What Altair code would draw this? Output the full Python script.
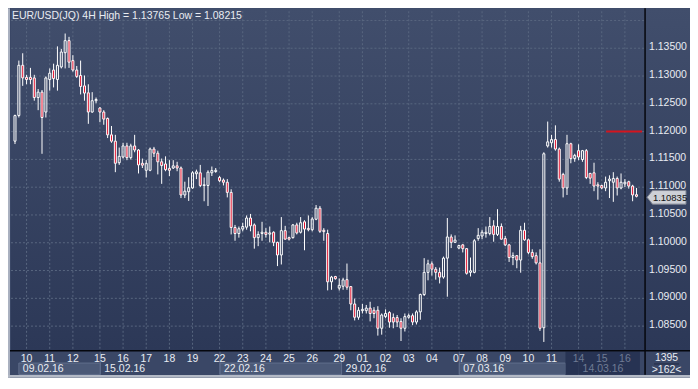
import altair as alt
import pandas as pd

# ---------------- data ----------------
opens = [
    1.11828, 1.12290, 1.13193, 1.12976, 1.12976, 1.12966, 1.12613, 1.12710, 1.12352, 1.12937,
    1.13108, 1.12937, 1.13164, 1.13420, 1.13637, 1.13278, 1.13108, 1.13010, 1.12823, 1.12698,
    1.12352, 1.12556, 1.12425, 1.12352, 1.12237, 1.11942, 1.11828, 1.11440, 1.11543, 1.11742,
    1.11532, 1.11742, 1.11669, 1.11430, 1.11304, 1.11304, 1.11686, 1.11611, 1.11457, 1.11418,
    1.11338, 1.11345, 1.11384, 1.11345, 1.10860, 1.10918, 1.10986, 1.11242, 1.11259, 1.11031,
    1.11031, 1.11259, 1.11282, 1.11174, 1.11128, 1.11089, 1.10906, 1.10275, 1.10167, 1.10246,
    1.10280, 1.10445, 1.10321, 1.10092, 1.10167, 1.10189, 1.10155, 1.10189, 1.10007, 1.09780,
    1.10218, 1.10092, 1.10092, 1.10321, 1.10189, 1.10377, 1.10258, 1.10235, 1.10423, 1.10621,
    1.10224, 1.10167, 1.09297, 1.09392, 1.09183, 1.09217, 1.09336, 1.09211, 1.08898, 1.08659,
    1.08778, 1.08778, 1.08824, 1.08785, 1.08785, 1.08461, 1.08671, 1.08744, 1.08654, 1.08654,
    1.08585, 1.08461, 1.08659, 1.08688, 1.08573, 1.08756, 1.09068, 1.09467, 1.09621, 1.09524,
    1.09467, 1.09382, 1.09723, 1.10104, 1.10007, 1.09904, 1.09962, 1.09894, 1.09467, 1.09467,
    1.10075, 1.10121, 1.10167, 1.10167, 1.10304, 1.10150, 1.10292, 1.10075, 1.09962, 1.09734,
    1.09768, 1.09689, 1.10224, 1.10053, 1.09826, 1.09768, 1.09638, 1.08471, 1.11742, 1.11799,
    1.11857, 1.11686, 1.11230, 1.10986, 1.11782, 1.11515, 1.11657, 1.11498, 1.11657, 1.11247,
    1.11259, 1.11043, 1.11031, 1.10986, 1.11116, 1.11089, 1.11157, 1.10986, 1.11060, 1.11099,
    1.11020, 1.10865,
]
highs = [
    1.12305, 1.13278, 1.13410, 1.13022, 1.13147, 1.13022, 1.12766, 1.12749, 1.12993, 1.13137,
    1.13222, 1.13534, 1.13488, 1.13765, 1.13705, 1.13375, 1.13181, 1.13278, 1.13010, 1.12852,
    1.12710, 1.12613, 1.12440, 1.12386, 1.12254, 1.12101, 1.11942, 1.11713, 1.11799, 1.11799,
    1.11782, 1.11942, 1.11686, 1.11515, 1.11486, 1.11713, 1.11725, 1.11657, 1.11515, 1.11555,
    1.11486, 1.11486, 1.11457, 1.11372, 1.11099, 1.11179, 1.11287, 1.11316, 1.11401, 1.11174,
    1.11304, 1.11372, 1.11345, 1.11201, 1.11157, 1.11145, 1.10962, 1.10321, 1.10292, 1.10360,
    1.10491, 1.10519, 1.10348, 1.10206, 1.10377, 1.10263, 1.10292, 1.10206, 1.10019, 1.10462,
    1.10304, 1.10109, 1.10338, 1.10360, 1.10462, 1.10406, 1.10491, 1.10462, 1.10679, 1.10662,
    1.10263, 1.10235, 1.09404, 1.09404, 1.09358, 1.09370, 1.09626, 1.09222, 1.08995, 1.08841,
    1.08898, 1.08881, 1.08938, 1.08841, 1.08858, 1.08727, 1.08802, 1.08768, 1.08727, 1.08700,
    1.08642, 1.08727, 1.08727, 1.08727, 1.08785, 1.09085, 1.09723, 1.09694, 1.09665, 1.09563,
    1.09553, 1.09751, 1.10445, 1.10150, 1.10133, 1.09962, 1.09979, 1.09904, 1.09734, 1.10065,
    1.10263, 1.10235, 1.10292, 1.10462, 1.10406, 1.10604, 1.10348, 1.10121, 1.09979, 1.09826,
    1.09780, 1.10304, 1.10360, 1.10075, 1.09882, 1.09826, 1.09882, 1.11628, 1.12181, 1.11942,
    1.12113, 1.11713, 1.11259, 1.11942, 1.11799, 1.11601, 1.11771, 1.11670, 1.11686, 1.11259,
    1.11440, 1.11089, 1.11043, 1.11191, 1.11213, 1.11270, 1.11191, 1.11247, 1.11145, 1.11116,
    1.11043, 1.10986,
]
lows = [
    1.11776, 1.12254, 1.12823, 1.12852, 1.12852, 1.12556, 1.12386, 1.11601, 1.12254, 1.12737,
    1.12795, 1.12737, 1.13137, 1.13137, 1.13147, 1.13078, 1.12966, 1.12669, 1.12556, 1.12140,
    1.12340, 1.12510, 1.12169, 1.12123, 1.11884, 1.11799, 1.11270, 1.11401, 1.11515, 1.11486,
    1.11498, 1.11628, 1.11247, 1.11345, 1.11174, 1.11287, 1.11543, 1.11230, 1.11060, 1.11287,
    1.11201, 1.11328, 1.11287, 1.10804, 1.10804, 1.10753, 1.10974, 1.11145, 1.11003, 1.10747,
    1.10662, 1.11201, 1.11259, 1.11089, 1.11031, 1.10816, 1.10150, 1.10036, 1.10092, 1.10206,
    1.10235, 1.10206, 1.09894, 1.09939, 1.10036, 1.10092, 1.10007, 1.09939, 1.09580, 1.09609,
    1.10053, 1.10041, 1.10075, 1.10150, 1.10167, 1.09865, 1.10206, 1.10206, 1.10406, 1.10177,
    1.10036, 1.09143, 1.09154, 1.09336, 1.09140, 1.09154, 1.09154, 1.08785, 1.08602, 1.08614,
    1.08727, 1.08727, 1.08585, 1.08642, 1.08329, 1.08346, 1.08642, 1.08471, 1.08461, 1.08483,
    1.08232, 1.08403, 1.08631, 1.08517, 1.08529, 1.08614, 1.09041, 1.09324, 1.09410, 1.09336,
    1.09268, 1.09353, 1.09029, 1.09904, 1.10007, 1.09882, 1.09826, 1.09427, 1.09393, 1.09450,
    1.10036, 1.10065, 1.10092, 1.10133, 1.10019, 1.10121, 1.10053, 1.09939, 1.09655, 1.09597,
    1.09541, 1.09461, 1.10036, 1.09792, 1.09712, 1.09609, 1.08415, 1.08215, 1.11713, 1.11713,
    1.11657, 1.11099, 1.10816, 1.10860, 1.11430, 1.11457, 1.11486, 1.11457, 1.11145, 1.11060,
    1.10928, 1.10775, 1.10962, 1.10928, 1.10804, 1.10736, 1.10850, 1.10962, 1.11003, 1.10974,
    1.10747, 1.10816,
]
closes = [
    1.12288, 1.13193, 1.12966, 1.12937, 1.12937, 1.12613, 1.12710, 1.12254, 1.12966, 1.13051,
    1.12954, 1.13193, 1.13432, 1.13637, 1.13249, 1.13108, 1.12993, 1.12812, 1.12693, 1.12352,
    1.12556, 1.12578, 1.12352, 1.12225, 1.11942, 1.11828, 1.11430, 1.11555, 1.11742, 1.11532,
    1.11742, 1.11669, 1.11401, 1.11396, 1.11430, 1.11686, 1.11611, 1.11457, 1.11389, 1.11316,
    1.11304, 1.11384, 1.11345, 1.10860, 1.10928, 1.10991, 1.11259, 1.11276, 1.11031, 1.11043,
    1.11270, 1.11299, 1.11304, 1.11116, 1.11089, 1.10906, 1.10275, 1.10167, 1.10252, 1.10292,
    1.10445, 1.10304, 1.10092, 1.10150, 1.10189, 1.10150, 1.10177, 1.10007, 1.09780, 1.10218,
    1.10065, 1.10065, 1.10321, 1.10177, 1.10360, 1.10246, 1.10235, 1.10428, 1.10621, 1.10206,
    1.10201, 1.09297, 1.09382, 1.09353, 1.09234, 1.09331, 1.09200, 1.08898, 1.08659, 1.08785,
    1.08802, 1.08824, 1.08727, 1.08727, 1.08461, 1.08700, 1.08727, 1.08573, 1.08573, 1.08573,
    1.08461, 1.08671, 1.08688, 1.08573, 1.08756, 1.09068, 1.09467, 1.09621, 1.09524, 1.09467,
    1.09382, 1.09723, 1.10104, 1.10007, 1.10048, 1.09950, 1.09894, 1.09450, 1.09495, 1.10036,
    1.10133, 1.10189, 1.10189, 1.10292, 1.10150, 1.10292, 1.10065, 1.09962, 1.09734, 1.09768,
    1.09689, 1.10224, 1.10053, 1.09826, 1.09751, 1.09638, 1.08461, 1.11601, 1.11816, 1.11857,
    1.11686, 1.11145, 1.10986, 1.11782, 1.11515, 1.11572, 1.11543, 1.11657, 1.11174, 1.11162,
    1.11020, 1.11020, 1.10986, 1.11089, 1.11145, 1.11157, 1.10986, 1.11089, 1.11089, 1.11020,
    1.10860, 1.10835,
]

day_pos = [3, 9, 15, 22, 28, 34, 40, 46, 53, 59, 65, 71, 77, 84, 90, 96, 102, 108,
           115, 121, 127, 133, 139, 146, 152, 158]
day_labels = ["10", "11", "12", "15", "16", "17", "18", "19", "22", "23", "24", "25", "26",
              "29", "01", "02", "03", "04", "07", "08", "09", "10", "11", "14", "15", "16"]
day_dim = [False] * 23 + [True] * 3

week_labels = ["09.02.16", "15.02.16", "22.02.16", "29.02.16", "07.03.16", "14.03.16"]
week_start = [1.0, 22.1, 53.1, 84.6, 115.1, 146.0]
week_end = [22.1, 53.1, 84.6, 115.1, 142.6, 161.9]
week_filled = [True, False, True, False, True, False]
week_dim = [False, False, False, False, False, True]
dim_from = 142.6

price_ticks = [1.085, 1.090, 1.095, 1.100, 1.105, 1.110, 1.115, 1.120, 1.125, 1.130, 1.135]
grid_prices = price_ticks + [1.140]
alert_price = 1.12000
last_close = 1.10835
title_text = "EUR/USD(JQ) 4H High = 1.13765 Low = 1.08215"
bars_total = "1395"
bars_visible = ">162<"

# ---------------- layout ----------------
W, H = 635, 340
FONT = "Liberation Sans Narrow, Liberation Sans, Arial, sans-serif"
FS = 10.5
TXT = "#e9ecf2"
DIM = "#6f7b94"
GRID = "#58667f"

xscale = alt.Scale(domain=[0.26, 161.93], nice=False, zero=False)
yscale = alt.Scale(domain=[1.080563, 1.141655], nice=False, zero=False)
X = alt.X("i:Q", scale=xscale, axis=None)


def Yf(field):
    return alt.Y(field, type="quantitative", scale=yscale, axis=None)


one = pd.DataFrame({"a": [0]})

df = pd.DataFrame({"i": list(range(len(opens))), "o": opens, "h": highs, "l": lows, "c": closes})
df["top"] = df[["o", "c"]].max(axis=1)
df["bot"] = df[["o", "c"]].min(axis=1)

grad = alt.LinearGradient(
    gradient="linear",
    stops=[alt.GradientStop(offset=0, color="#414e6c"), alt.GradientStop(offset=1, color="#2c3857")],
    x1=0, x2=0, y1=0, y2=1,
)

bg_plot = alt.Chart(one).mark_rect(color=grad).encode(
    x=alt.value(0), x2=alt.value(W), y=alt.value(-3), y2=alt.value(H))
bg_right = alt.Chart(one).mark_rect(color=grad).encode(
    x=alt.value(W), x2=alt.value(680), y=alt.value(-3), y2=alt.value(H))
left_border = alt.Chart(one).mark_rect(color="#aab1c0").encode(
    x=alt.value(-3), x2=alt.value(-1), y=alt.value(-3), y2=alt.value(367))
bottom_border = alt.Chart(one).mark_rect(color="#b4bac6").encode(
    x=alt.value(-3), x2=alt.value(680), y=alt.value(364.2), y2=alt.value(367))

hgrid = alt.Chart(pd.DataFrame({"p": grid_prices})).mark_rule(
    color=GRID, strokeDash=[2, 2], strokeWidth=1).encode(
    y=Yf("p"), x=alt.value(0), x2=alt.value(W))

days_df = pd.DataFrame({"i": day_pos, "t": day_labels, "dim": day_dim})
vgrid = alt.Chart(days_df).mark_rule(color=GRID, strokeDash=[2, 2], strokeWidth=1).encode(
    x=X, y=alt.value(0), y2=alt.value(H))

alert = alt.Chart(pd.DataFrame({"p": [alert_price]})).mark_rule(
    color="#d4141e", strokeWidth=2).encode(y=Yf("p"), x=alt.value(596), x2=alt.value(632))

wick_up = alt.Chart(df).mark_rule(color="white", strokeWidth=1, clip=True).encode(
    x=X, y=Yf("h"), y2="top:Q")
wick_dn = alt.Chart(df).mark_rule(color="white", strokeWidth=1, clip=True).encode(
    x=X, y=Yf("bot"), y2="l:Q")
bull = alt.Chart(df).transform_filter("datum.c >= datum.o").mark_bar(
    width=2, stroke="white", strokeWidth=1, fill="#36425f", fillOpacity=0, clip=True).encode(
    x=X, y=Yf("bot"), y2="top:Q")
bear = alt.Chart(df).transform_filter("datum.c < datum.o").mark_bar(
    width=2, stroke="white", strokeWidth=1, fill="#e3102d", clip=True).encode(
    x=X, y=Yf("bot"), y2="top:Q")

hline = alt.Chart(one).mark_rule(color="#05070d", strokeWidth=1.5).encode(
    x=alt.value(-3), x2=alt.value(680), y=alt.value(H))
vline = alt.Chart(one).mark_rule(color="#05070d", strokeWidth=1.5).encode(
    x=alt.value(W), y=alt.value(-3), y2=alt.value(364))

# bottom time axis
weeks_df = pd.DataFrame({"s": week_start, "e": week_end, "t": week_labels,
                         "f": week_filled, "dim": week_dim})
week_boxes = alt.Chart(weeks_df).transform_filter("datum.f").mark_rect(
    fill="#4b5977", stroke="#5f6d8b", strokeWidth=1).encode(
    x=alt.X("s:Q", scale=xscale, axis=None), x2="e:Q", y=alt.value(352.3), y2=alt.value(363.7))
week_sep = alt.Chart(weeks_df).transform_filter("datum.s > 5").mark_rule(
    color="#5f6d8b", strokeWidth=1).encode(
    x=alt.X("s:Q", scale=xscale, axis=None), y=alt.value(H), y2=alt.value(364))
dim_box = alt.Chart(pd.DataFrame({"s": [dim_from], "e": [week_end[-1]]})).mark_rect(
    fill="#253050", opacity=0.85).encode(
    x=alt.X("s:Q", scale=xscale, axis=None), x2="e:Q", y=alt.value(H + 0.8), y2=alt.value(364))
day_text = alt.Chart(days_df).mark_text(
    font=FONT, fontSize=FS, baseline="middle", align="center").encode(
    x=X, y=alt.value(348), text="t:N",
    color=alt.condition("datum.dim", alt.value(DIM), alt.value(TXT)))
week_text = alt.Chart(weeks_df).mark_text(
    font=FONT, fontSize=FS, baseline="middle", align="left", dx=4).encode(
    x=alt.X("s:Q", scale=xscale, axis=None), y=alt.value(358), text="t:N",
    color=alt.condition("datum.dim", alt.value(DIM), alt.value(TXT)))

# right price axis
ticks_df = pd.DataFrame({"p": price_ticks, "t": [f"{v:.5f}" for v in price_ticks]})
ylabels = alt.Chart(ticks_df).mark_text(
    font=FONT, fontSize=FS, color=TXT, align="left", baseline="middle", dy=-1).encode(
    y=Yf("p"), x=alt.value(639), text="t:N")

tag_df = pd.DataFrame({"p": [last_close], "t": [f"{last_close:.5f}"]})
tag = alt.Chart(tag_df).mark_point(
    shape="M -1 0 L -0.72 -0.35 L 1 -0.35 L 1 0.35 L -0.72 0.35 Z",
    size=1521, filled=True, fill="#cdd0d6", stroke="#7d8390", strokeWidth=1, opacity=1).encode(
    y=Yf("p"), x=alt.value(656.5), yOffset=alt.value(1))
tag_text = alt.Chart(tag_df).mark_text(
    font=FONT, fontSize=9.5, color="#111111", align="center", baseline="middle", dy=1.5).encode(
    y=Yf("p"), x=alt.value(660), text="t:N")

title = alt.Chart(one).mark_text(
    text=title_text, font=FONT, fontSize=FS, color=TXT, align="left", baseline="middle").encode(
    x=alt.value(1), y=alt.value(5))

count_top = alt.Chart(one).mark_text(
    text=bars_total, font=FONT, fontSize=FS, color=TXT, align="center", baseline="middle").encode(
    x=alt.value(656.5), y=alt.value(347))
count_line = alt.Chart(one).mark_rule(color="#222b43", strokeWidth=1).encode(
    x=alt.value(644), x2=alt.value(669), y=alt.value(353.2))
count_bot = alt.Chart(one).mark_text(
    text=bars_visible, font=FONT, fontSize=FS, color=TXT, align="center", baseline="middle").encode(
    x=alt.value(656.5), y=alt.value(359.4))

chart = alt.layer(
    bg_plot, bg_right, hgrid, vgrid, alert,
    wick_up, wick_dn, bull, bear,
    week_boxes, week_sep, dim_box, day_text, week_text,
    hline, vline, left_border, bottom_border,
    ylabels, tag, tag_text, title, count_top, count_line, count_bot,
).properties(
    width=W, height=H,
    padding={"left": 3, "top": 3, "right": 45, "bottom": 27},
    autosize=alt.AutoSizeParams(type="none"),
    background="#3a4766",
).configure_view(stroke=None)

chart.save("out.html", embed_options={"renderer": "svg", "actions": False})
